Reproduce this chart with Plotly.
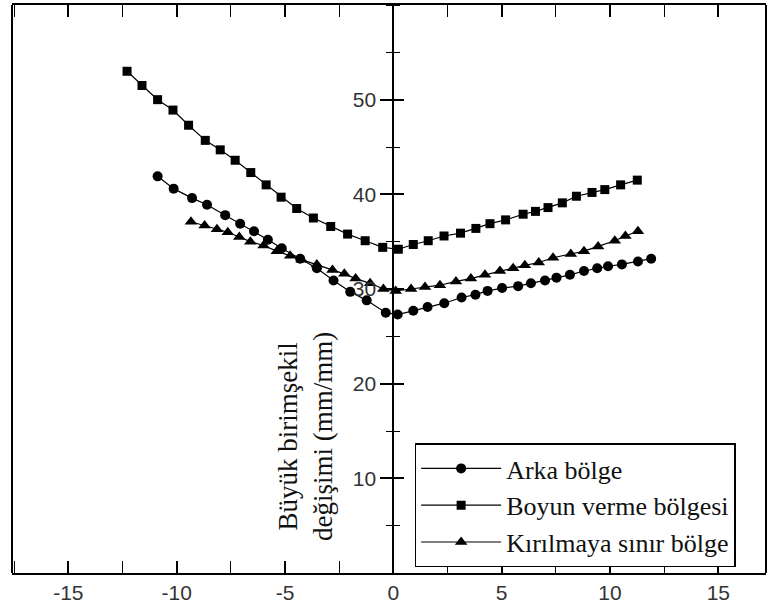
import plotly.graph_objects as go

# Arka bölge (circles)
arka_x = [-10.88, -10.14, -9.29, -8.60, -7.76, -7.07, -6.43, -5.79, -5.15, -4.30,
          -3.53, -2.76, -1.99, -1.23, -0.35, 0.20, 0.92, 1.58, 2.35, 3.15,
          3.79, 4.35, 5.02, 5.76, 6.35, 7.00, 7.53, 8.15, 8.80, 9.41,
          9.91, 10.55, 11.29, 11.90]
arka_y = [41.9, 40.6, 39.6, 38.9, 37.8, 36.9, 36.1, 35.2, 34.3, 33.2,
          32.2, 30.9, 29.7, 28.8, 27.5, 27.3, 27.7, 28.1, 28.5, 29.1,
          29.4, 29.8, 30.1, 30.3, 30.6, 30.9, 31.2, 31.5, 31.9, 32.2,
          32.4, 32.6, 32.9, 33.2]

# Boyun verme bölgesi (squares)
boyun_x = [-12.29, -11.60, -10.88, -10.17, -9.45, -8.68, -7.99, -7.30, -6.58, -5.87,
           -5.18, -4.46, -3.69, -2.89, -2.11, -1.30, -0.49, 0.23, 0.92, 1.61,
           2.34, 3.10, 3.81, 4.46, 5.18, 5.99, 6.56, 7.14, 7.80, 8.45,
           9.17, 9.76, 10.49, 11.26]
boyun_y = [53.0, 51.5, 50.0, 48.9, 47.3, 45.7, 44.7, 43.6, 42.3, 41.0,
           39.7, 38.5, 37.5, 36.6, 35.8, 35.1, 34.4, 34.2, 34.7, 35.1,
           35.6, 35.9, 36.4, 36.9, 37.3, 37.9, 38.2, 38.6, 39.1, 39.8,
           40.2, 40.5, 41.0, 41.5]

# Kırılmaya sınır bölge (triangles)
kirilma_x = [-9.34, -8.71, -8.14, -7.64, -7.11, -6.60, -5.99, -5.38, -4.76, -4.23,
             -3.53, -2.81, -2.26, -1.74, -1.07, -0.46, 0.11, 0.82, 1.46, 2.15,
             2.89, 3.58, 4.23, 4.92, 5.53, 6.07, 6.71, 7.37, 8.19, 8.80,
             9.45, 10.22, 10.71, 11.29]
kirilma_y = [37.1, 36.7, 36.3, 36.0, 35.5, 35.0, 34.6, 34.0, 33.5, 33.1,
             32.6, 32.0, 31.6, 31.1, 30.6, 30.0, 29.8, 30.0, 30.2, 30.4,
             30.8, 31.1, 31.5, 31.9, 32.2, 32.5, 32.8, 33.3, 33.7, 34.0,
             34.5, 35.1, 35.6, 36.1]

x_ticks = [-15, -10, -5, 0, 5, 10, 15]
x_tick_labels = ["-15", "-10", "-5", "0", "5", "10", "15"]
y_ticks = [10, 20, 30, 40, 50]

X_RANGE = [-17.6, 17.2]
Y_RANGE = [0, 60]

series = [
    ("Arka bölge", arka_x, arka_y, "circle", 10),
    ("Boyun verme bölgesi", boyun_x, boyun_y, "square", 9),
    ("Kırılmaya sınır bölge", kirilma_x, kirilma_y, "triangle-up", 11),
]

fig = go.Figure()
for name, xs, ys, sym, size in series:
    fig.add_trace(go.Scatter(
        x=xs, y=ys, name=name, mode="lines+markers",
        line=dict(color="black", width=1.2),
        marker=dict(symbol=sym, size=size, color="black"),
    ))

# y axis sits at x = 0 inside the frame
y_pos = (0 - X_RANGE[0]) / (X_RANGE[1] - X_RANGE[0])
tick_font = dict(family="Liberation Sans", size=21, color="#333")

fig.update_layout(
    width=769, height=615,
    margin=dict(l=12, r=3, t=3, b=42),
    paper_bgcolor="white", plot_bgcolor="white",
    showlegend=True,
    legend=dict(
        x=0.534, y=0.228, xanchor="left", yanchor="top",
        bordercolor="black", borderwidth=1.5, bgcolor="white",
        font=dict(family="Liberation Serif", size=26, color="#111"),
        tracegroupgap=0, itemwidth=80,
    ),
    xaxis=dict(
        range=X_RANGE, tickvals=x_ticks, ticktext=x_tick_labels,
        ticks="inside", ticklen=12, tickwidth=1.5,
        tickcolor="black", showline=True, linecolor="black", linewidth=2,
        mirror="allticks", showgrid=False, zeroline=False,
        minor=dict(dtick=2.5, ticks="inside", ticklen=6, tickwidth=1.2, tickcolor="black"),
        tickfont=tick_font,
    ),
    yaxis=dict(
        range=Y_RANGE, tickvals=y_ticks, ticks="outside", ticklen=12, tickwidth=1.5,
        tickcolor="black", showline=True, linecolor="black", linewidth=2,
        anchor="free", position=y_pos, showgrid=False, zeroline=False,
        minor=dict(dtick=5, ticks="outside", ticklen=6, tickwidth=1.2, tickcolor="black"),
        tickfont=tick_font,
    ),
    # second copy of the y axis on the other side so the ticks cross the line
    yaxis2=dict(
        range=Y_RANGE, tickvals=y_ticks, ticks="outside", ticklen=10, tickwidth=1.5,
        tickcolor="black", showline=False, showticklabels=False,
        overlaying="y", side="right", anchor="free", position=y_pos,
        showgrid=False, zeroline=False,
        minor=dict(dtick=5, ticks="outside", ticklen=6, tickwidth=1.2, tickcolor="black"),
    ),
)

# empty trace to bring the second y axis into being
fig.add_trace(go.Scatter(x=[None], y=[None], yaxis="y2", showlegend=False,
                         hoverinfo="skip"))

# outer frame sides
fig.add_shape(type="line", xref="paper", yref="paper", x0=0, x1=0, y0=0, y1=1,
              line=dict(color="black", width=2))
fig.add_shape(type="line", xref="paper", yref="paper", x0=1, x1=1, y0=0, y1=1,
              line=dict(color="black", width=2))

fig.add_annotation(
    text="Büyük birimşekil<br>değişimi (mm/mm)",
    xref="x", yref="y", x=-4.06, y=14.4, textangle=-90, showarrow=False,
    font=dict(family="Liberation Serif", size=27, color="#111"),
)

fig.write_html("out.html")
